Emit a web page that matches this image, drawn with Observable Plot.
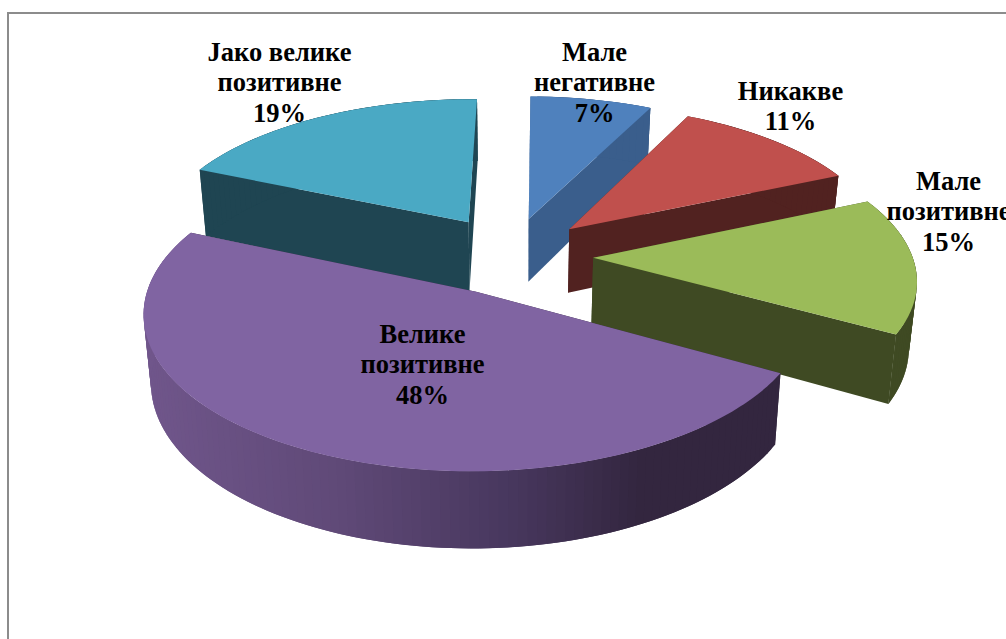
<!DOCTYPE html>
<html><head><meta charset="utf-8">
<style>html,body{margin:0;padding:0;background:#fff;overflow:hidden}svg{display:block}</style>
<script src="https://cdn.jsdelivr.net/npm/d3@7"></script>
<script src="https://cdn.jsdelivr.net/npm/@observablehq/plot@0.6"></script>
</head><body><div id="chart"></div>
<script>
// Data
const categories = ["Мале\nнегативне", "Никакве", "Мале\nпозитивне", "Велике\nпозитивне", "Јако велике\nпозитивне"];
const shares = [7.1, 11.1, 14.7, 48.4, 18.7];
// Styles
const topColors = ["#4f81bd", "#c0504d", "#9bbb59", "#8064a2", "#4aa9c4"];
const wallColors = ["#3a5e8c", "#512220", "#3f4a23", "#33263f", "#1f4552"];
const paintOrder = [4, 0, 1, 2, 3];
const labelX = [594, 790, 948, 422, 279];
const labelY = [81, 105, 210, 363, 81];
// Sideways nudge of each exploded slice, in pie radii, and relative wall height
const nudgeU = [0, 0, -0.003, 0.016, 0.012];
const nudgeV = [0, 0, 0.003, 0.002, -0.01];
const wallScale = [1, 1, 1, 1, 1.1];
// Perspective model of the exploded pie
const view = {cx: 509, cy: 255, A: 319, B: 146.7, k: 0.127, H: 65, shrink: 0.98, explode: 0.265, rotate: 0.8};
const rad = d => d * Math.PI / 180;
function project(U, V, wall) {
  const w = 1 - view.k * V;
  return {
    x: view.cx + (wall ? view.shrink : 1) * view.A * U / w,
    y: view.cy + (view.B * V + view.H * wall) / w
  };
}
const purpleRamp = d3.scaleLinear()
  .domain([143, 340, 520, 640, 782])
  .range(["#70568b", "#5f4977", "#46365c", "#33263f", "#33263f"]);

const rows = [];
let polyId = 0;
function pushPoly(pts, fill) {
  const id = polyId++;
  for (const p of pts) rows.push({id, x: p.x, y: p.y, fill});
}
let acc = 0;
const slices = shares.map((v, i) => {
  const a0 = acc * 3.6 + view.rotate; acc += v;
  const a1 = acc * 3.6 + view.rotate;
  const mid = rad((a0 + a1) / 2);
  return {a0, a1, ou: view.explode * Math.sin(mid) + nudgeU[i], ov: -view.explode * Math.cos(mid) + nudgeV[i]};
});
for (const i of paintOrder) {
  const s = slices[i], h = wallScale[i];
  const pt = (a, wall) => project(s.ou + Math.sin(rad(a)), s.ov - Math.cos(rad(a)), wall);
  const tip = wall => project(s.ou, s.ov, wall);
  // flat cut walls
  pushPoly([tip(0), pt(s.a0, 0), pt(s.a0, h), tip(h)], wallColors[i]);
  pushPoly([tip(0), pt(s.a1, 0), pt(s.a1, h), tip(h)], wallColors[i]);
  // outer wall in overlapping angular strips, so no seams show
  const n = Math.ceil((s.a1 - s.a0) / 1.5);
  const step = (s.a1 - s.a0) / n;
  for (let j = 0; j < n; j++) {
    const a = s.a0 + step * j, b = Math.min(s.a1, a + step * 2);
    const P = pt(a, 0), Q = pt(a + step, 0);
    const col = i === 3 ? purpleRamp((P.x + Q.x) / 2) : wallColors[i];
    pushPoly([P, pt(b, 0), pt(b, h), pt(a, h)], col);
  }
  // top face
  const face = [tip(0)];
  const m = Math.ceil(s.a1 - s.a0);
  for (let j = 0; j <= m; j++) face.push(pt(s.a0 + (s.a1 - s.a0) * j / m, 0));
  pushPoly(face, topColors[i]);
}
const labels = categories.map((c, i) => ({text: `${c}\n${Math.round(shares[i])}%`, x: labelX[i], y: labelY[i]}));

const chart = Plot.plot({
  width: 1006, height: 639,
  margin: 0,
  x: {domain: [0, 1006], range: [0, 1006], axis: null},
  y: {domain: [0, 639], range: [0, 639], axis: null},
  style: {background: "#fff"},
  marks: [
    Plot.ruleX([7.5], {y1: 12, y2: 639, stroke: "#8c8c8c", strokeWidth: 2}),
    Plot.ruleY([12.5], {x1: 7, x2: 1006, stroke: "#8c8c8c", strokeWidth: 2}),
    Plot.line(rows, {x: "x", y: "y", z: "id", fill: "fill", stroke: "none", curve: "linear-closed"}),
    Plot.text(labels, {x: "x", y: "y", text: "text", fontFamily: "Liberation Serif", fontWeight: "bold", fontSize: 26.5, lineHeight: 1.15, fill: "#000"})
  ]
});
document.getElementById("chart").append(chart);
</script></body></html>
